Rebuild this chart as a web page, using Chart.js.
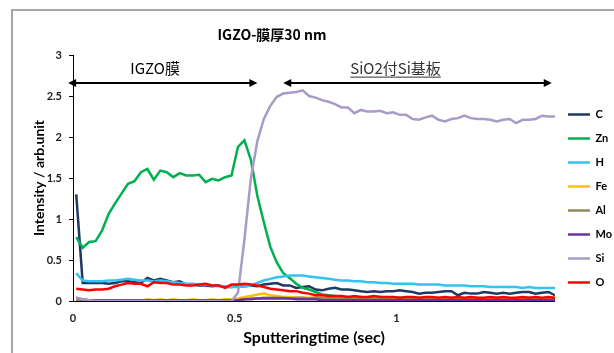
<!DOCTYPE html>
<html>
<head>
<meta charset="utf-8">
<script src="https://cdn.jsdelivr.net/npm/chart.js@4/dist/chart.umd.min.js"></script>
<style>
  html, body { margin: 0; padding: 0; background: #fff; }
  #wrap { width: 614px; height: 353px; }
</style>
</head>
<body>
<div id="wrap"><canvas id="chart_canvas" width="614" height="353"></canvas></div>
<script>
    'use strict';
    // sputtering time (sec) for each measured point
    const times = [0.01,0.03,0.05,0.07,0.09,0.11,0.13,0.15,0.17,0.19,
                   0.21,0.23,0.25,0.27,0.29,0.31,0.33,0.35,0.37,0.39,
                   0.41,0.43,0.45,0.47,0.49,0.51,0.53,0.55,0.57,0.59,
                   0.61,0.63,0.65,0.67,0.69,0.71,0.73,0.75,0.77,0.79,
                   0.81,0.83,0.85,0.87,0.89,0.91,0.93,0.95,0.97,0.99,
                   1.01,1.03,1.05,1.07,1.09,1.11,1.13,1.15,1.17,1.19,
                   1.21,1.23,1.25,1.27,1.29,1.31,1.33,1.35,1.37,1.39,
                   1.41,1.43,1.45,1.47,1.49];

    const elements = ['C', 'Zn', 'H', 'Fe', 'Al', 'Mo', 'Si', 'O'];
    const colors = ['#1F3864', '#00B050', '#33C3F0', '#FFC000', '#948A54', '#7030A0', '#A99BC9', '#FF0000'];

    const c_vals = [1.30,0.22,0.22,0.22,0.22,0.21,0.22,0.24,0.24,0.23, 0.22,0.28,0.25,0.27,0.25,0.23,0.24,0.20,0.20,0.19,
                    0.19,0.18,0.19,0.17,0.17,0.18,0.18,0.19,0.18,0.20, 0.21,0.22,0.19,0.19,0.16,0.17,0.18,0.14,0.13,0.15,
                    0.16,0.14,0.14,0.13,0.12,0.11,0.12,0.11,0.12,0.12, 0.13,0.12,0.11,0.09,0.10,0.10,0.11,0.12,0.12,0.07,
                    0.10,0.09,0.09,0.11,0.10,0.09,0.10,0.09,0.10,0.11, 0.11,0.09,0.10,0.11,0.07];
    const zn_vals = [0.78,0.65,0.72,0.73,0.86,1.06,1.19,1.31,1.43,1.46, 1.57,1.61,1.48,1.59,1.57,1.51,1.56,1.53,1.53,1.54,
                     1.45,1.49,1.47,1.51,1.53,1.88,1.96,1.72,1.28,0.96, 0.66,0.47,0.34,0.28,0.21,0.16,0.14,0.11,0.08,0.07,
                     0.06,0.05,0.05,0.04,0.05,0.04,0.04,0.05,0.04,0.04, 0.04,0.03,0.04,0.04,0.03,0.04,0.03,0.03,0.04,0.03,
                     0.03,0.04,0.03,0.03,0.03,0.04,0.03,0.03,0.03,0.03, 0.04,0.03,0.03,0.03,0.03];
    const h_vals = [0.34,0.25,0.24,0.24,0.24,0.25,0.25,0.26,0.27,0.26, 0.25,0.25,0.24,0.25,0.24,0.23,0.22,0.21,0.21,0.20,
                    0.20,0.19,0.18,0.18,0.17,0.17,0.18,0.19,0.22,0.25, 0.27,0.29,0.30,0.31,0.31,0.31,0.30,0.29,0.28,0.27,
                    0.26,0.25,0.25,0.24,0.24,0.23,0.23,0.22,0.22,0.21, 0.21,0.21,0.21,0.20,0.20,0.20,0.20,0.19,0.19,0.19,
                    0.19,0.18,0.18,0.18,0.17,0.17,0.17,0.17,0.17,0.16, 0.17,0.16,0.16,0.16,0.16];
    const fe_vals = [0.01,0.01,0.00,0.00,0.00,0.00,0.01,0.00,0.01,0.01, 0.00,0.02,0.01,0.02,0.01,0.02,0.01,0.01,0.02,0.01,
                     0.01,0.02,0.01,0.02,0.02,0.03,0.05,0.06,0.08,0.09, 0.07,0.06,0.05,0.05,0.04,0.04,0.04,0.04,0.03,0.04,
                     0.03,0.04,0.04,0.03,0.04,0.03,0.04,0.03,0.03,0.04, 0.03,0.03,0.04,0.03,0.03,0.03,0.04,0.03,0.03,0.03,
                     0.03,0.03,0.04,0.03,0.03,0.03,0.03,0.03,0.04,0.03, 0.03,0.03,0.03,0.03,0.03];
    const al_vals = [0.01,0.00,0.00,0.00,0.00,0.00,0.00,0.00,0.00,0.00, 0.00,0.00,0.00,0.00,0.00,0.00,0.00,0.00,0.00,0.00,
                     0.00,0.00,0.00,0.00,0.00,0.01,0.02,0.03,0.03,0.04, 0.04,0.04,0.04,0.03,0.04,0.04,0.03,0.04,0.04,0.03,
                     0.04,0.04,0.03,0.04,0.03,0.04,0.03,0.03,0.04,0.03, 0.03,0.04,0.03,0.03,0.03,0.04,0.03,0.03,0.03,0.03,
                     0.03,0.04,0.03,0.03,0.03,0.03,0.03,0.03,0.03,0.03, 0.03,0.03,0.03,0.03,0.03];
    const mo_vals = [0.04,0.02,0.01,0.01,0.01,0.01,0.01,0.01,0.01,0.01, 0.01,0.01,0.01,0.01,0.01,0.01,0.01,0.01,0.01,0.01,
                     0.01,0.01,0.01,0.01,0.01,0.01,0.02,0.02,0.03,0.03, 0.03,0.03,0.03,0.03,0.02,0.02,0.02,0.02,0.01,0.01,
                     0.01,0.01,0.01,0.01,0.01,0.01,0.01,0.01,0.01,0.01, 0.01,0.01,0.01,0.01,0.01,0.01,0.01,0.01,0.01,0.01,
                     0.01,0.01,0.01,0.01,0.01,0.01,0.01,0.01,0.01,0.01, 0.01,0.01,0.01,0.01,0.01];
    const si_vals = [0.04,0.02,0.01,0.00,0.00,0.00,0.00,0.00,0.00,0.00, 0.00,0.00,0.00,0.00,0.00,0.00,0.00,0.00,0.00,0.00,
                     0.00,0.00,0.00,0.00,0.00,0.10,0.75,1.50,1.95,2.22, 2.38,2.49,2.53,2.54,2.55,2.57,2.50,2.48,2.45,2.43,
                     2.40,2.36,2.36,2.29,2.33,2.31,2.31,2.32,2.29,2.30, 2.27,2.27,2.22,2.21,2.24,2.26,2.21,2.19,2.22,2.23,
                     2.26,2.23,2.22,2.22,2.21,2.19,2.21,2.22,2.17,2.21, 2.21,2.22,2.26,2.25,2.25];
    const o_vals = [0.15,0.14,0.13,0.14,0.14,0.15,0.18,0.20,0.22,0.21, 0.21,0.18,0.23,0.22,0.22,0.20,0.20,0.19,0.19,0.20,
                    0.21,0.19,0.19,0.16,0.20,0.20,0.21,0.20,0.19,0.17, 0.15,0.14,0.13,0.12,0.12,0.10,0.09,0.07,0.07,0.06,
                    0.06,0.06,0.05,0.06,0.05,0.05,0.06,0.05,0.05,0.05, 0.04,0.05,0.05,0.04,0.05,0.05,0.04,0.05,0.04,0.05,
                    0.04,0.05,0.04,0.04,0.05,0.04,0.05,0.04,0.04,0.05, 0.04,0.05,0.04,0.05,0.04];

    const series = [c_vals, zn_vals, h_vals, fe_vals, al_vals, mo_vals, si_vals, o_vals];

    const chartTitle = 'IGZO-膜厚30 nm';
    const regionLabels = ['IGZO膜', 'SiO2付Si基板'];
    const regionSpans = [[-0.015, 0.57], [0.65, 1.48]];   // arrows, in sec
    const regionLabelX = [0.254, 0.997];
    const arrowLevel = 2.66;
    const labelLevel = 2.84;

    const FONT = 'Lato, "Noto Sans", sans-serif';
    const JP_FONT = '"Noto Sans CJK JP", "Noto Sans", sans-serif';

    // draws the frame, the title and the two region arrows
    const decorations = {
        id: 'decorations',
        beforeDraw(chart){
            const ctx = chart.ctx;
            ctx.save();
            ctx.fillStyle = '#fff';
            ctx.fillRect(0, 0, chart.width, chart.height);
            ctx.strokeStyle = '#a6a6a6';
            ctx.lineWidth = 2;
            ctx.strokeRect(12, 10, 700, 500);
            ctx.restore();
        },
        afterDraw(chart){
            const ctx = chart.ctx;
            const x = chart.scales.x, y = chart.scales.y;
            ctx.save();
            ctx.fillStyle = '#000';
            ctx.textAlign = 'center';
            ctx.textBaseline = 'middle';
            ctx.font = 'bold 14px ' + JP_FONT;
            ctx.fillText(chartTitle, 272, 35);

            const ay = y.getPixelForValue(arrowLevel);
            ctx.strokeStyle = '#000';
            ctx.lineWidth = 2;
            regionSpans.forEach(span => {
                const x1 = x.getPixelForValue(span[0]);
                const x2 = x.getPixelForValue(span[1]);
                ctx.beginPath();
                ctx.moveTo(x1 + 4, ay);
                ctx.lineTo(x2 - 4, ay);
                ctx.stroke();
                [[x1, 1], [x2, -1]].forEach(([px, dir]) => {
                    ctx.beginPath();
                    ctx.moveTo(px, ay);
                    ctx.lineTo(px + dir * 8, ay - 4);
                    ctx.lineTo(px + dir * 8, ay + 4);
                    ctx.closePath();
                    ctx.fill();
                });
            });

            const ly = y.getPixelForValue(labelLevel);
            ctx.font = '15px ' + JP_FONT;
            regionLabels.forEach((txt, i) => {
                const cx = x.getPixelForValue(regionLabelX[i]);
                ctx.fillStyle = i === 0 ? '#000' : '#333';
                ctx.fillText(txt, cx, ly);
                if(i === 1){
                    const w = ctx.measureText(txt).width;
                    ctx.strokeStyle = '#333';
                    ctx.lineWidth = 1;
                    ctx.beginPath();
                    ctx.moveTo(cx - w / 2, ly + 9);
                    ctx.lineTo(cx + w / 2, ly + 9);
                    ctx.stroke();
                }
            });
            ctx.restore();
        }
    };

    const datasets = elements.map((name, i) => ({
        label: name,
        data: series[i].map((v, j) => ({x: times[j], y: v})),
        borderColor: colors[i],
        backgroundColor: colors[i],
        borderWidth: 2.5,
        pointRadius: 0,
        tension: 0,
        fill: false,
        order: elements.length - i   // later series on top, like the original
    }));

    const tickFont = {family: FONT, weight: 'bold', size: 11};
    // keep only the ticks on the 0.5 grid (drops the 1.49 end tick)
    const halfSteps = scale => {
        scale.ticks = scale.ticks.filter(t => Math.abs(t.value * 2 - Math.round(t.value * 2)) < 1e-6);
    };

    new Chart(document.getElementById('chart_canvas'), {
        type: 'line',
        data: {datasets: datasets},
        options: {
            responsive: false,
            animation: false,
            layout: {padding: {left: 12, top: 55, right: -8, bottom: 0}},
            scales: {
                x: {
                    type: 'linear',
                    min: 0,
                    max: 1.49,
                    grid: {display: true, drawOnChartArea: false, drawTicks: false, color: '#000'},
                    border: {color: '#000', width: 1},
                    afterBuildTicks: halfSteps,
                    ticks: {stepSize: 0.5, padding: 11, color: '#222', font: tickFont,
                            callback: v => String(v)},
                    title: {display: true, text: 'Sputteringtime (sec)', color: '#000',
                            font: {family: FONT, weight: 'bold', size: 16}, padding: {top: 0, bottom: 6}},
                    afterFit: scale => { scale.height = 52; }
                },
                y: {
                    min: 0,
                    max: 3,
                    grid: {display: true, drawOnChartArea: false, drawTicks: true, tickLength: 4, color: '#000'},
                    border: {color: '#000', width: 1},
                    ticks: {stepSize: 0.5, padding: 7, color: '#222', font: tickFont,
                            callback: v => String(v)},
                    title: {display: true, text: 'Intensity / arb.unit', color: '#000',
                            font: {family: FONT, weight: 'bold', size: 14}, padding: {top: 19, bottom: 0}},
                    afterFit: scale => { scale.width = 61; }
                }
            },
            plugins: {
                title: {display: false},
                tooltip: {enabled: false},
                legend: {
                    position: 'right',
                    align: 'end',
                    fullSize: false,
                    labels: {
                        usePointStyle: true,
                        pointStyle: 'line',
                        pointStyleWidth: 22,
                        padding: 13,
                        color: '#000',
                        font: {family: FONT, weight: 'bold', size: 11},
                        sort: (a, b) => a.datasetIndex - b.datasetIndex
                    }
                }
            }
        },
        plugins: [decorations]
    });
</script>
</body>
</html>
